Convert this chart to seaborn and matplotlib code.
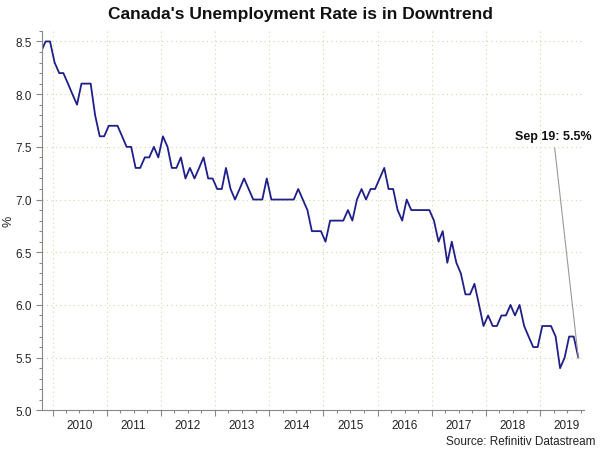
import pandas as pd
import matplotlib.pyplot as plt
import matplotlib.dates as mdates
from matplotlib.ticker import MultipleLocator, FuncFormatter
import seaborn as sns

# Tasa de desempleo mensual de Canadá, oct 2009 - sep 2019
fechas = pd.date_range('2009-10-01', '2019-09-01', freq='MS') + pd.Timedelta(days=14)
tasa = [
    8.4, 8.5, 8.5,
    8.3, 8.2, 8.2, 8.1, 8.0, 7.9, 8.1, 8.1, 8.1, 7.8, 7.6, 7.6,
    7.7, 7.7, 7.7, 7.6, 7.5, 7.5, 7.3, 7.3, 7.4, 7.4, 7.5, 7.4,
    7.6, 7.5, 7.3, 7.3, 7.4, 7.2, 7.3, 7.2, 7.3, 7.4, 7.2, 7.2,
    7.1, 7.1, 7.3, 7.1, 7.0, 7.1, 7.2, 7.1, 7.0, 7.0, 7.0, 7.2,
    7.0, 7.0, 7.0, 7.0, 7.0, 7.0, 7.1, 7.0, 6.9, 6.7, 6.7, 6.7,
    6.6, 6.8, 6.8, 6.8, 6.8, 6.9, 6.8, 7.0, 7.1, 7.0, 7.1, 7.1,
    7.2, 7.3, 7.1, 7.1, 6.9, 6.8, 7.0, 6.9, 6.9, 6.9, 6.9, 6.9,
    6.8, 6.6, 6.7, 6.4, 6.6, 6.4, 6.3, 6.1, 6.1, 6.2, 6.0, 5.8,
    5.9, 5.8, 5.8, 5.9, 5.9, 6.0, 5.9, 6.0, 5.8, 5.7, 5.6, 5.6,
    5.8, 5.8, 5.8, 5.7, 5.4, 5.5, 5.7, 5.7, 5.5,
]
datos = pd.DataFrame({'Fecha': fechas, 'Tasa': tasa})

titulo = "Canada's Unemployment Rate is in Downtrend"
fuente = 'Source: Refinitiv Datastream'
etiqueta_final = f"Sep 19: {tasa[-1]}%"

sns.set_theme(style='white')
plt.rcParams['font.family'] = ['Liberation Sans', 'DejaVu Sans']

fig = plt.figure(figsize=(6, 4.56), dpi=100)
ax = fig.add_axes([0.0705, 0.098, 0.9025, 0.832])

sns.lineplot(x='Fecha', y='Tasa', data=datos, ax=ax, color='#1f1f8a', linewidth=1.3)

ax.set_xlim(pd.Timestamp('2009-10-24'), pd.Timestamp('2019-10-22'))
ax.set_ylim(5.0, 8.6)

# Ejes y marcas
ax.yaxis.set_major_locator(MultipleLocator(0.5))
ax.yaxis.set_minor_locator(MultipleLocator(0.1))
ax.yaxis.set_major_formatter(FuncFormatter(lambda v, p: f'{v:.1f}'))
ax.xaxis.set_major_locator(mdates.YearLocator())
ax.xaxis.set_major_formatter(FuncFormatter(lambda v, p: ''))
ax.xaxis.set_minor_locator(mdates.MonthLocator([4, 7, 10]))
ax.xaxis.set_minor_formatter(
    FuncFormatter(lambda v, p: str(mdates.num2date(v).year) if mdates.num2date(v).month == 7 else ''))

ax.tick_params(axis='both', which='major', direction='out', length=4, width=0.8,
               color='#888888', labelsize=8.5, labelcolor='#222222', left=True, bottom=True)
ax.tick_params(axis='both', which='minor', direction='out', length=2, width=0.8,
               color='#888888', labelsize=8.5, labelcolor='#222222', left=True, bottom=True)
ax.tick_params(axis='x', which='minor', pad=4)

for lado in ['top', 'right']:
    ax.spines[lado].set_visible(False)
for lado in ['left', 'bottom']:
    ax.spines[lado].set_color('#888888')
    ax.spines[lado].set_linewidth(0.8)

# Cuadrícula punteada
ax.grid(True, which='major', axis='both', linestyle=(0, (1, 3)), color='#d2d9a6', linewidth=0.8)
ax.set_axisbelow(True)

ax.set_xlabel('')
ax.set_ylabel('%', fontsize=9, color='#222222')
ax.yaxis.set_label_coords(-0.052, 0.5)
ax.set_title(titulo, fontsize=12.5, fontweight='bold', color='#111111', pad=9, x=0.476)

ax.annotate(etiqueta_final, xy=(datos['Fecha'].iloc[-1], datos['Tasa'].iloc[-1]),
            xytext=(-25, 222), textcoords='offset pixels', ha='center', va='center',
            fontsize=9, fontweight='bold', color='#111111',
            arrowprops=dict(arrowstyle='-', color='#999999', lw=0.8, shrinkA=2, shrinkB=0))

fig.text(0.992, 0.018, fuente, ha='right', va='bottom', fontsize=8.5, color='#222222')

fig.savefig('out.png', dpi=100)
